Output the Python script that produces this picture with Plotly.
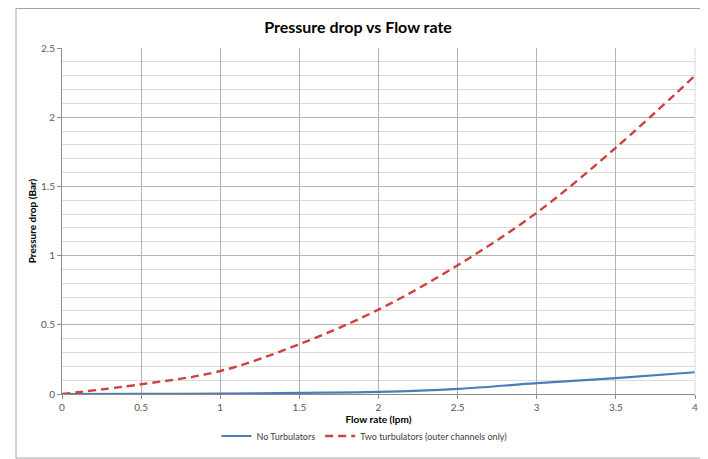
import plotly.graph_objects as go

flow = [0, 0.5, 1, 1.5, 2, 2.5, 3, 3.5, 4]
no_turb = [0, 0.001, 0.003, 0.008, 0.015, 0.037, 0.078, 0.115, 0.157]
two_turb = [0, 0.07, 0.166, 0.36, 0.61, 0.93, 1.31, 1.78, 2.30]

fig = go.Figure()
fig.add_trace(go.Scatter(x=flow, y=no_turb, mode="lines", name="No Turbulators",
                         line=dict(color="#4a7ebb", width=2.2, shape="spline")))
fig.add_trace(go.Scatter(x=flow, y=two_turb, mode="lines", name="Two turbulators (outer channels only)",
                         line=dict(color="#d0413e", width=2.4, dash="8px,5px", shape="spline")))

# page body has an 8px default margin, so the figure is 8px smaller than the window
W, H = 700, 451
ml, mr, mt, mb = 54, 13, 40, 65
pw, ph = W - ml - mr, H - mt - mb

def px(x):
    return (x - ml) / pw

def py(y):
    return (H - mb - y) / ph

FONT = "Lato"

fig.update_layout(
    width=W, height=H,
    margin=dict(l=ml, r=mr, t=mt, b=mb, autoexpand=False),
    paper_bgcolor="white", plot_bgcolor="white",
    font=dict(family=FONT, color="#595959", size=10),
    title=dict(text="<b>Pressure drop vs Flow rate</b>", x=0.5, xanchor="center",
               y=1 - 19 / H, yanchor="middle",
               font=dict(family=FONT, size=16, color="black")),
    xaxis=dict(range=[0, 4], dtick=0.5, showgrid=True, gridcolor="#b3b3b3", gridwidth=1,
               showline=True, linecolor="#8c8c8c", ticks="outside", ticklen=4, tickcolor="#8c8c8c",
               zeroline=False, mirror=False, automargin=False,
               title=dict(text="<b>Flow rate (lpm)</b>", standoff=2,
                          font=dict(size=10, color="black"))),
    yaxis=dict(range=[0, 2.5], dtick=0.5, showgrid=True, gridcolor="#b3b3b3", gridwidth=1,
               showline=True, linecolor="#8c8c8c", ticks="outside", ticklen=4, tickcolor="#8c8c8c",
               zeroline=False, automargin=False,
               minor=dict(dtick=0.1, showgrid=True, gridcolor="#dcdcdc", gridwidth=1),
               title=dict(text="<b>Pressure drop (Bar)</b>", standoff=2,
                          font=dict(size=10, color="black"))),
    legend=dict(orientation="h", x=0.5 - 14 / pw, xanchor="center", y=py(428), yanchor="middle",
                font=dict(size=9, color="#404040"), itemwidth=30),
    shapes=[
        dict(type="rect", xref="paper", yref="paper", x0=px(8), x1=px(696),
             y0=py(450), y1=py(0.5), line=dict(color="#a6a6a6", width=1), layer="below"),
        dict(type="line", xref="paper", yref="paper", x0=1, x1=1, y0=0, y1=1,
             line=dict(color="#d9d9d9", width=1)),
    ],
)

fig.write_html("out.html")
